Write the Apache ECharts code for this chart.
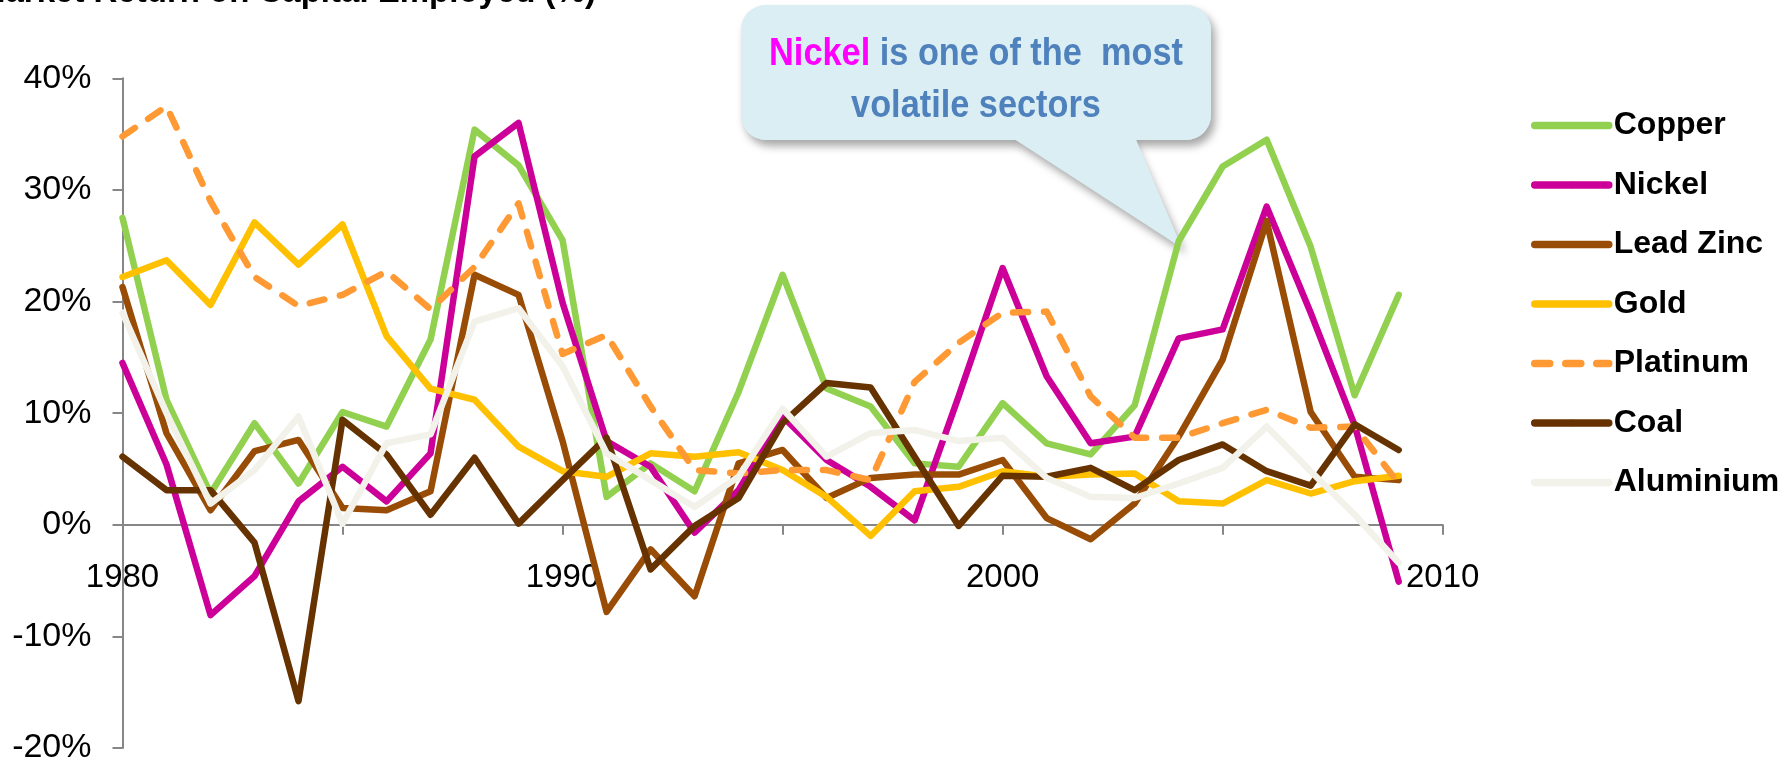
<!DOCTYPE html>
<html>
<head>
<meta charset="utf-8">
<script src="https://cdn.jsdelivr.net/npm/echarts@6/dist/echarts.min.js"></script>
<style>
html,body{margin:0;padding:0;background:#fff;}
#c{width:1792px;height:764px;}
</style>
</head>
<body>
<div id="c"></div>
<script>
const years = [1980,1981,1982,1983,1984,1985,1986,1987,1988,1989,1990,1991,1992,1993,1994,1995,1996,1997,1998,1999,2000,2001,2002,2003,2004,2005,2006,2007,2008,2009];
const copper = [27.5,11.2,2.8,9.1,3.7,10.1,8.8,16.6,35.4,32.2,25.5,2.5,5.5,3.0,11.9,22.4,12.2,10.6,5.5,5.2,10.9,7.3,6.3,10.7,25.4,32.1,34.5,24.9,11.6,20.6];
const nickel = [14.5,5.4,-8.1,-4.6,2.1,5.2,2.1,6.4,33.0,36.0,19.9,7.5,5.2,-0.7,3.1,9.7,5.8,3.4,0.4,11.5,23.0,13.3,7.3,7.9,16.7,17.5,28.5,19.0,8.9,-5.1];
const leadZinc = [21.3,8.2,1.3,6.6,7.6,1.5,1.3,3.0,22.4,20.6,7.5,-7.8,-2.2,-6.4,5.5,6.7,2.4,4.2,4.5,4.5,5.8,0.6,-1.3,1.9,7.9,14.8,27.2,10.1,4.3,4.0];
const gold = [22.2,23.7,19.7,27.1,23.3,26.9,16.9,12.2,11.2,7.0,4.8,4.3,6.4,6.1,6.5,4.9,2.5,-1.0,3.0,3.4,4.8,4.3,4.5,4.6,2.1,1.9,4.0,2.8,3.9,4.4];
const platinum = [34.8,37.5,29.0,22.2,19.6,20.6,22.7,19.3,23.1,28.8,15.3,17.0,10.6,4.9,4.6,4.9,4.9,4.0,12.8,16.3,19.0,19.1,11.5,7.8,7.8,9.1,10.3,8.7,8.8,3.7];
const coal = [6.1,3.1,3.1,-1.6,-15.8,9.4,6.3,0.9,6.0,0.1,4.0,7.8,-4.0,-0.1,2.4,9.1,12.7,12.3,6.1,-0.1,4.4,4.3,5.1,3.1,5.8,7.2,4.8,3.5,9.0,6.7];
const aluminium = [19.0,10.0,1.9,4.9,9.7,0.1,7.3,8.1,18.2,19.4,14.2,6.4,4.0,1.6,4.3,10.4,6.1,8.2,8.5,7.5,7.8,4.2,2.5,2.4,3.7,5.1,8.8,4.8,0.9,-3.4];
const seriesNames = ['Copper','Nickel','Lead Zinc','Gold','Platinum','Coal','Aluminium'];
const seriesValues = [copper,nickel,leadZinc,gold,platinum,coal,aluminium];
const seriesColors = ['#92D050','#CC0099','#994C06','#FFC000','#FF9933','#663300','#F2F2EA'];
const titleText = 'Market Return on Capital Employed (%)';
const yTicks = {min:-20, max:40, step:10};
const xTicks = {min:1980, max:2010, step:5, labelStep:10};

const FONT = '"Liberation Sans", Arial, sans-serif';
const chart = echarts.init(document.getElementById('c'));

const series = seriesNames.map((name, i) => ({
  name: name,
  type: 'line',
  data: years.map((y, k) => [y, seriesValues[i][k]]),
  showSymbol: false,
  symbol: 'none',
  smooth: false,
  lineStyle: {
    color: seriesColors[i],
    width: 6.5,
    type: name === 'Platinum' ? [15, 16] : 'solid',
    cap: 'round',
    join: 'round'
  },
  itemStyle: {color: seriesColors[i]},
  z: 3 + i
}));

const gridTop = 78.3, gridBottomPx = 748;
const zeroOffset = -((gridBottomPx - gridTop) * (0 - yTicks.min) / (yTicks.max - yTicks.min));

const boxShape = {x: 741, y: 5, width: 470, height: 135, r: 25};
const tailShape = {points: [[1014, 139], [1132, 139], [1182, 248]]};
const shadow = {shadowBlur: 8, shadowOffsetX: 4, shadowOffsetY: 6, shadowColor: 'rgba(0,0,0,0.35)'};

chart.setOption({
  animation: false,
  backgroundColor: '#ffffff',
  grid: {left: 122.5, right: 349.3, top: gridTop, bottom: 764 - gridBottomPx, containLabel: false, outerBoundsMode: 'none'},
  xAxis: {
    type: 'value',
    min: xTicks.min, max: xTicks.max, interval: xTicks.step,
    offset: zeroOffset,
    axisLine: {onZero: false, lineStyle: {color: '#878787', width: 2}},
    axisTick: {show: true, length: 10, lineStyle: {color: '#878787', width: 2}},
    splitLine: {show: false},
    axisLabel: {
      color: '#000', fontSize: 33, fontFamily: FONT, margin: 37,
      formatter: v => (v % xTicks.labelStep === 0 ? String(v) : '')
    }
  },
  yAxis: {
    type: 'value',
    min: yTicks.min, max: yTicks.max, interval: yTicks.step,
    axisLine: {show: true, lineStyle: {color: '#878787', width: 2}},
    axisTick: {show: true, length: 10, lineStyle: {color: '#878787', width: 2}},
    splitLine: {show: false},
    axisLabel: {color: '#000', fontSize: 34, fontFamily: FONT, margin: 31, formatter: '{value}%'}
  },
  legend: {
    orient: 'vertical',
    left: 1526, top: 102.5,
    itemWidth: 74, itemHeight: 8, itemGap: 23.5,
    lineStyle: {width: 7.5, cap: 'round'},
    textStyle: {color: '#000', fontSize: 32, fontWeight: 'bold', fontFamily: FONT, lineHeight: 36},
    data: seriesNames
  },
  graphic: [
    {
      type: 'text', x: -22, y: -24, z: 10,
      style: {text: titleText, fill: '#000', font: 'bold 33px ' + FONT}
    },
    {type: 'rect', z: 1, shape: boxShape, style: Object.assign({fill: '#DAEEF3'}, shadow)},
    {type: 'polygon', z: 1, shape: tailShape, style: Object.assign({fill: '#DAEEF3'}, shadow)},
    {type: 'rect', z: 1, shape: boxShape, style: {fill: '#DAEEF3'}},
    {type: 'polygon', z: 1, shape: {points: [[1014, 130], [1132, 130], [1182, 248]]}, style: {fill: '#DAEEF3'}},
    {
      type: 'text', z: 2, x: 976, y: 80, scaleX: 0.88, scaleY: 1,
      style: {
        text: '{m|Nickel} {b|is one of the  most}\n{b|volatile sectors}',
        align: 'center', verticalAlign: 'middle',
        rich: {
          m: {fill: '#FF00FF', fontSize: 39, fontWeight: 'bold', fontFamily: FONT, lineHeight: 52},
          b: {fill: '#4F81BD', fontSize: 39, fontWeight: 'bold', fontFamily: FONT, lineHeight: 52}
        },
        fill: '#4F81BD', font: 'bold 39px ' + FONT
      }
    }
  ],
  series: series
});
</script>
</body>
</html>
